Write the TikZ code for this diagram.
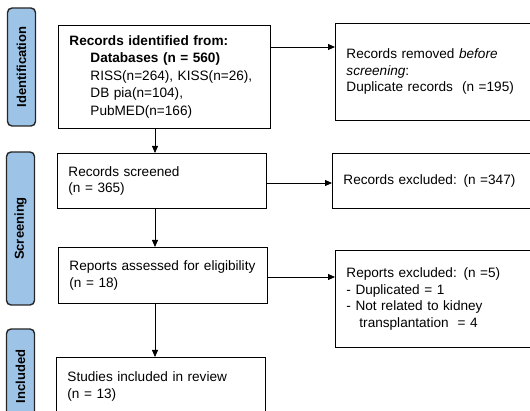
\documentclass[tikz,border=0pt]{standalone}
\usepackage{fontspec}
\setmainfont{Liberation Sans}
\usetikzlibrary{arrows.meta,shadows}
\definecolor{phaseblue}{HTML}{9DC3E6}
\begin{document}
\begin{tikzpicture}[x=1pt,y=-1pt,
  box/.style={draw=black, line width=0.9pt, fill=white, anchor=north west,
    inner xsep=11pt, inner ysep=0pt, align=left,
    font=\fontsize{13.6}{16.5}\selectfont,
    drop shadow={shadow xshift=0.8pt, shadow yshift=-1pt, fill=black, opacity=0.9}},
  phase/.style={draw=black!85, line width=1.4pt, fill=phaseblue, rounded corners=4.5pt,
    rotate=90, minimum height=28pt, inner sep=0pt,
    font=\fontsize{13}{14}\selectfont\bfseries},
  arr/.style={line width=0.8pt, -{Triangle[length=7pt,width=6pt]}}]
\useasboundingbox (0,0) rectangle (530,411);

% phase labels
\node[phase, minimum width=118pt] (pid) at (21.5,67) {Identification};
\node[phase, minimum width=153pt] (psc) at (20.5,228.5) {Screening};
\node[phase, minimum width=95pt] (pin) at (20.5,376.5) {Included};

% main boxes
\node[box, minimum width=212pt, minimum height=103pt, text width=190pt,
  font=\fontsize{13.6}{17.5}\selectfont] (b1) at (58,25)
  {\textbf{Records identified from:}\\
   \hspace*{21pt}\textbf{Databases (n = 560)}\\
   \hspace*{21pt}RISS(n=264), KISS(n=26),\\
   \hspace*{21pt}DB pia(n=104),\\
   \hspace*{21pt}PubMED(n=166)};
\node[box, minimum width=200pt, minimum height=97pt, text width=178pt] (rem) at (335,23)
  {Records removed \textit{before}\\ \textit{screening}:\\ Duplicate records\ \ (n =195)};
\node[box, minimum width=209pt, minimum height=55pt, text width=187pt] (b2) at (57,153)
  {Records screened\\ (n = 365)};
\node[box, minimum width=200pt, minimum height=55pt, text width=178pt] (rex) at (332,153)
  {Records excluded: (n =347)};
\node[box, minimum width=209pt, minimum height=56pt, text width=187pt] (b3) at (58,247)
  {Reports assessed for eligibility\\ (n = 18)};
\node[box, minimum width=200pt, minimum height=97pt, text width=178pt] (pex) at (335,250)
  {Reports excluded: (n =5)\\ - Duplicated = 1\\ - Not related to kidney\\ \hspace*{13pt}transplantation\ \ = 4};
\node[box, minimum width=209pt, minimum height=58pt, text width=187pt] (b4) at (56,357)
  {Studies included in review\\ (n = 13)};

% connectors
\coordinate (ax) at (155,0);
\coordinate (h1) at (0,47);
\coordinate (h2) at (0,183);
\coordinate (h3) at (0,277);
\draw[arr] (b1.south -| ax) -- (b2.north -| ax);
\draw[arr] (b2.south -| ax) -- (b3.north -| ax);
\draw[arr] (b3.south -| ax) -- (b4.north -| ax);
\draw[arr] (b1.east |- h1) -- (rem.west |- h1);
\draw[arr] (b2.east |- h2) -- (rex.west |- h2);
\draw[arr] (b3.east |- h3) -- (pex.west |- h3);
\end{tikzpicture}
\end{document}
